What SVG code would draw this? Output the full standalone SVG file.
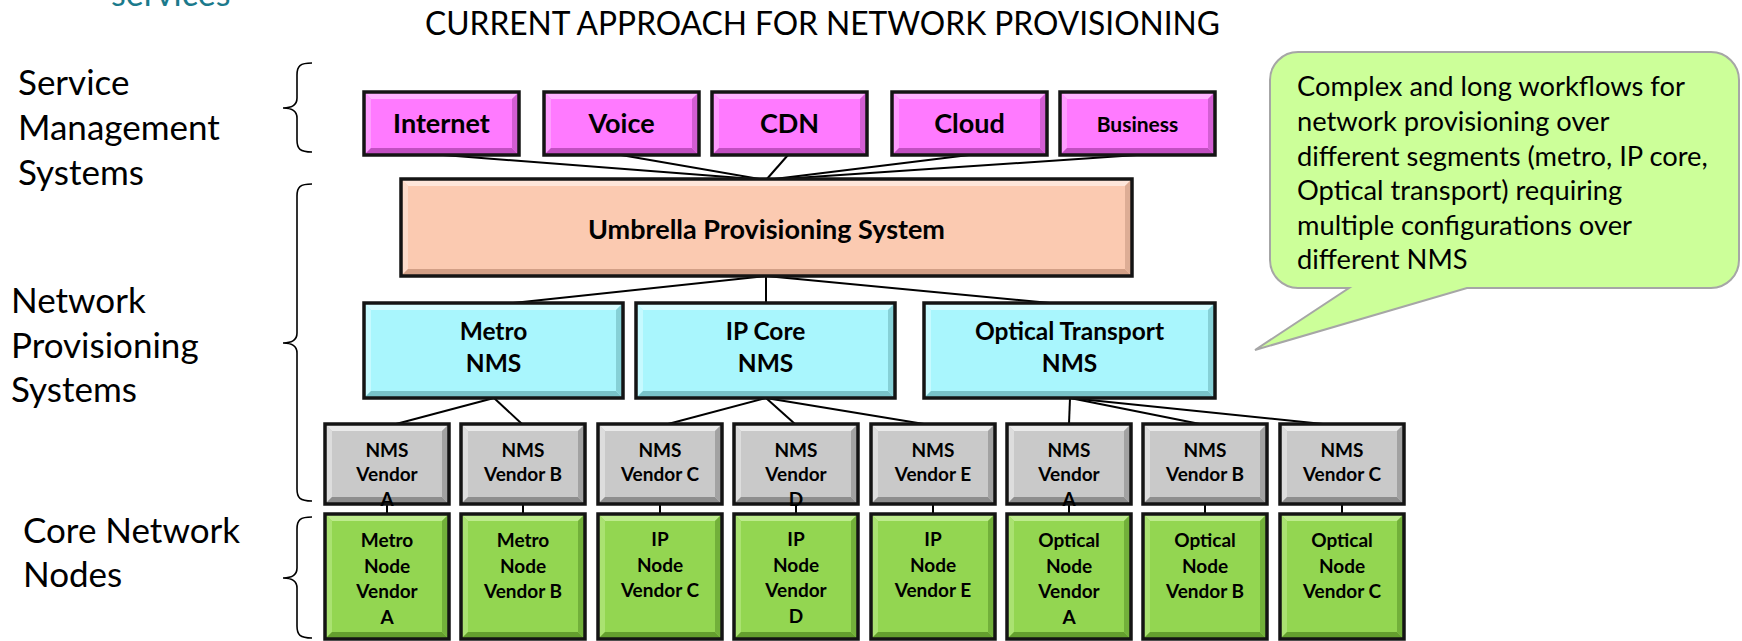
<svg xmlns="http://www.w3.org/2000/svg" xmlns:xlink="http://www.w3.org/1999/xlink" width="1742" height="641" viewBox="0 0 1742 641">
<style>
.lbl{font-family:Lato,"Liberation Sans",sans-serif;font-size:35px;fill:#000}
.bt{font-family:Lato,"Liberation Sans",sans-serif;font-weight:700;text-anchor:middle;fill:#000}
.f26{font-size:27px}.f21{font-size:21px}.f24{font-size:24.5px}.f19{font-size:19px}
.conn line{stroke:#000;stroke-width:2}
.brace{fill:none;stroke:#000;stroke-width:1.6}
.call{font-family:Lato,"Liberation Sans",sans-serif;font-size:27.3px;fill:#000}
.edge{fill:none;stroke:#141414;stroke-width:3.5}
</style>
<defs>
<g id="svc">
<rect width="155" height="63" fill="#FF7AFF"/>
<polygon points="0,0 155,0 148,7 7,7" fill="#FFB3FF"/>
<polygon points="0,0 7,7 7,56 0,63" fill="#FF9CFF"/>
<polygon points="0,63 7,56 148,56 155,63" fill="#C24FC2"/>
<polygon points="155,0 155,63 148,56 148,7" fill="#D35ED3"/>
<rect width="155" height="63" class="edge"/>
</g>
<g id="umb">
<rect width="731" height="97" fill="#FBCAB1"/>
<polygon points="0,0 731,0 724,7 7,7" fill="#FEE6DA"/>
<polygon points="0,0 7,7 7,90 0,97" fill="#FDDCCB"/>
<polygon points="0,97 7,90 724,90 731,97" fill="#D29F86"/>
<polygon points="731,0 731,97 724,90 724,7" fill="#DDAD95"/>
<rect width="731" height="97" class="edge"/>
</g>
<g id="nms1">
<rect width="259" height="95" fill="#A9F6FD"/>
<polygon points="0,0 259,0 252,7 7,7" fill="#D6FCFF"/>
<polygon points="0,0 7,7 7,88 0,95" fill="#C6FAFF"/>
<polygon points="0,95 7,88 252,88 259,95" fill="#79C3C9"/>
<polygon points="259,0 259,95 252,88 252,7" fill="#86D1D7"/>
<rect width="259" height="95" class="edge"/>
</g>
<g id="nms2">
<rect width="291" height="95" fill="#A9F6FD"/>
<polygon points="0,0 291,0 284,7 7,7" fill="#D6FCFF"/>
<polygon points="0,0 7,7 7,88 0,95" fill="#C6FAFF"/>
<polygon points="0,95 7,88 284,88 291,95" fill="#79C3C9"/>
<polygon points="291,0 291,95 284,88 284,7" fill="#86D1D7"/>
<rect width="291" height="95" class="edge"/>
</g>
<g id="gray">
<rect width="124" height="80" fill="#C9C9C9"/>
<polygon points="0,0 124,0 117,7 7,7" fill="#EAEAEA"/>
<polygon points="0,0 7,7 7,73 0,80" fill="#DDDDDD"/>
<polygon points="0,80 7,73 117,73 124,80" fill="#8E8E8E"/>
<polygon points="124,0 124,80 117,73 117,7" fill="#A2A2A2"/>
<rect width="124" height="80" class="edge"/>
</g>
<g id="green">
<rect width="124" height="125" fill="#93D651"/>
<polygon points="0,0 124,0 117,7 7,7" fill="#BDEB8D"/>
<polygon points="0,0 7,7 7,118 0,125" fill="#AAE271"/>
<polygon points="0,125 7,118 117,118 124,125" fill="#649F2E"/>
<polygon points="124,0 124,125 117,118 117,7" fill="#72B03A"/>
<rect width="124" height="125" class="edge"/>
</g>
</defs>
<rect width="1742" height="641" fill="#FFFFFF"/>

<text x="111" y="6" style="font-family:Lato,'Liberation Sans',sans-serif;font-size:34px;fill:#1B7A8C">services</text>
<text x="425" y="35" textLength="795" lengthAdjust="spacingAndGlyphs" style="font-family:Lato,'Liberation Sans',sans-serif;font-size:32px;fill:#000">CURRENT APPROACH FOR NETWORK PROVISIONING</text>

<g id="label-service">
<text class="lbl" x="18" y="95">Service</text>
<text class="lbl" x="18" y="140">Management</text>
<text class="lbl" x="18" y="185">Systems</text>
<path class="brace" d="M312,63 C300,63 297,66 297,75 V98 C297,105 292,108 283,108 C292,108 297,111 297,118 V140 C297,149 300,152 312,152"/>
</g>
<g id="label-network">
<text class="lbl" x="11" y="313">Network</text>
<text class="lbl" x="11" y="358">Provisioning</text>
<text class="lbl" x="11" y="402">Systems</text>
<path class="brace" d="M312,184 C300,184 297,187 297,196 V333 C297,340 292,343 283,343 C292,343 297,346 297,353 V489 C297,498 300,501 312,501"/>
</g>
<g id="label-core">
<text class="lbl" x="23" y="543">Core Network</text>
<text class="lbl" x="23" y="587">Nodes</text>
<path class="brace" d="M312,517 C300,517 297,520 297,529 V568 C297,575 292,578 283,578 C292,578 297,581 297,588 V626 C297,635 300,638 312,638"/>
</g>

<g id="connectors" class="conn">
<line x1="443" y1="155" x2="766" y2="180"/>
<line x1="621" y1="155" x2="766" y2="180"/>
<line x1="788" y1="155" x2="766" y2="180"/>
<line x1="969" y1="155" x2="766" y2="180"/>
<line x1="1137" y1="155" x2="766" y2="180"/>
<line x1="766" y1="276" x2="513" y2="303"/>
<line x1="766" y1="276" x2="766" y2="303"/>
<line x1="766" y1="276" x2="1050" y2="303"/>
<line x1="494" y1="398" x2="396" y2="424"/>
<line x1="494" y1="398" x2="522" y2="424"/>
<line x1="766" y1="398" x2="668" y2="424"/>
<line x1="766" y1="398" x2="795" y2="424"/>
<line x1="766" y1="398" x2="924" y2="424"/>
<line x1="1070" y1="398" x2="1069" y2="424"/>
<line x1="1070" y1="398" x2="1200" y2="424"/>
<line x1="1070" y1="398" x2="1323" y2="424"/>
<line x1="387" y1="504" x2="387" y2="514"/>
<line x1="523" y1="504" x2="523" y2="514"/>
<line x1="660" y1="504" x2="660" y2="514"/>
<line x1="796" y1="504" x2="796" y2="514"/>
<line x1="933" y1="504" x2="933" y2="514"/>
<line x1="1069" y1="504" x2="1069" y2="514"/>
<line x1="1205" y1="504" x2="1205" y2="514"/>
<line x1="1342" y1="504" x2="1342" y2="514"/>
</g>

<g id="svc-internet"><use href="#svc" x="364" y="92"/><text class="bt f26" x="441.5" y="133">Internet</text></g>
<g id="svc-voice"><use href="#svc" x="544" y="92"/><text class="bt f26" x="621.5" y="133">Voice</text></g>
<g id="svc-cdn"><use href="#svc" x="712" y="92"/><text class="bt f26" x="789.5" y="133">CDN</text></g>
<g id="svc-cloud"><use href="#svc" x="892" y="92"/><text class="bt f26" x="969.5" y="133">Cloud</text></g>
<g id="svc-business"><use href="#svc" x="1060" y="92"/><text class="bt f21" x="1137.5" y="132">Business</text></g>

<g id="umbrella"><use href="#umb" x="401" y="179"/><text class="bt f26" x="766.5" y="239">Umbrella Provisioning System</text></g>

<g id="nms-metro"><use href="#nms1" x="364" y="303"/><text class="bt f24" x="493.5"><tspan x="493.5" y="340">Metro</tspan><tspan x="493.5" y="372">NMS</tspan></text></g>
<g id="nms-ipcore"><use href="#nms1" x="636" y="303"/><text class="bt f24" x="765.5"><tspan x="765.5" y="340">IP Core</tspan><tspan x="765.5" y="372">NMS</tspan></text></g>
<g id="nms-optical"><use href="#nms2" x="924" y="303"/><text class="bt f24" x="1069.5"><tspan x="1069.5" y="340">Optical Transport</tspan><tspan x="1069.5" y="372">NMS</tspan></text></g>

<g id="vnms-1"><use href="#gray" x="325" y="424"/><text class="bt f19"><tspan x="387" y="457">NMS</tspan><tspan x="387" y="481">Vendor</tspan><tspan x="387" y="506">A</tspan></text></g>
<g id="vnms-2"><use href="#gray" x="461" y="424"/><text class="bt f19"><tspan x="523" y="457">NMS</tspan><tspan x="523" y="481">Vendor B</tspan></text></g>
<g id="vnms-3"><use href="#gray" x="598" y="424"/><text class="bt f19"><tspan x="660" y="457">NMS</tspan><tspan x="660" y="481">Vendor C</tspan></text></g>
<g id="vnms-4"><use href="#gray" x="734" y="424"/><text class="bt f19"><tspan x="796" y="457">NMS</tspan><tspan x="796" y="481">Vendor</tspan><tspan x="796" y="506">D</tspan></text></g>
<g id="vnms-5"><use href="#gray" x="871" y="424"/><text class="bt f19"><tspan x="933" y="457">NMS</tspan><tspan x="933" y="481">Vendor E</tspan></text></g>
<g id="vnms-6"><use href="#gray" x="1007" y="424"/><text class="bt f19"><tspan x="1069" y="457">NMS</tspan><tspan x="1069" y="481">Vendor</tspan><tspan x="1069" y="506">A</tspan></text></g>
<g id="vnms-7"><use href="#gray" x="1143" y="424"/><text class="bt f19"><tspan x="1205" y="457">NMS</tspan><tspan x="1205" y="481">Vendor B</tspan></text></g>
<g id="vnms-8"><use href="#gray" x="1280" y="424"/><text class="bt f19"><tspan x="1342" y="457">NMS</tspan><tspan x="1342" y="481">Vendor C</tspan></text></g>

<g id="node-1"><use href="#green" x="325" y="514"/><text class="bt f19"><tspan x="387" y="547">Metro</tspan><tspan x="387" y="572.5">Node</tspan><tspan x="387" y="598">Vendor</tspan><tspan x="387" y="623.5">A</tspan></text></g>
<g id="node-2"><use href="#green" x="461" y="514"/><text class="bt f19"><tspan x="523" y="547">Metro</tspan><tspan x="523" y="572.5">Node</tspan><tspan x="523" y="598">Vendor B</tspan></text></g>
<g id="node-3"><use href="#green" x="598" y="514"/><text class="bt f19"><tspan x="660" y="546">IP</tspan><tspan x="660" y="571.5">Node</tspan><tspan x="660" y="597">Vendor C</tspan></text></g>
<g id="node-4"><use href="#green" x="734" y="514"/><text class="bt f19"><tspan x="796" y="546">IP</tspan><tspan x="796" y="571.5">Node</tspan><tspan x="796" y="597">Vendor</tspan><tspan x="796" y="622.5">D</tspan></text></g>
<g id="node-5"><use href="#green" x="871" y="514"/><text class="bt f19"><tspan x="933" y="546">IP</tspan><tspan x="933" y="571.5">Node</tspan><tspan x="933" y="597">Vendor E</tspan></text></g>
<g id="node-6"><use href="#green" x="1007" y="514"/><text class="bt f19"><tspan x="1069" y="547">Optical</tspan><tspan x="1069" y="572.5">Node</tspan><tspan x="1069" y="598">Vendor</tspan><tspan x="1069" y="623.5">A</tspan></text></g>
<g id="node-7"><use href="#green" x="1143" y="514"/><text class="bt f19"><tspan x="1205" y="547">Optical</tspan><tspan x="1205" y="572.5">Node</tspan><tspan x="1205" y="598">Vendor B</tspan></text></g>
<g id="node-8"><use href="#green" x="1280" y="514"/><text class="bt f19"><tspan x="1342" y="547">Optical</tspan><tspan x="1342" y="572.5">Node</tspan><tspan x="1342" y="598">Vendor C</tspan></text></g>

<g id="callout">
<path d="M1298,52 H1711 A28,28 0 0 1 1739,80 V260 A28,28 0 0 1 1711,288 H1467 L1255,350 L1349,288 H1298 A28,28 0 0 1 1270,260 V80 A28,28 0 0 1 1298,52 Z" fill="#CCFF99" stroke="#A6A6A6" stroke-width="2"/>
<text class="call"><tspan x="1297" y="96">Complex and long workflows for</tspan><tspan x="1297" y="131">network provisioning over</tspan><tspan x="1297" y="165.5">different segments (metro, IP core,</tspan><tspan x="1297" y="200">Optical transport) requiring</tspan><tspan x="1297" y="234.5">multiple configurations over</tspan><tspan x="1297" y="269">different NMS</tspan></text>
</g>
</svg>
